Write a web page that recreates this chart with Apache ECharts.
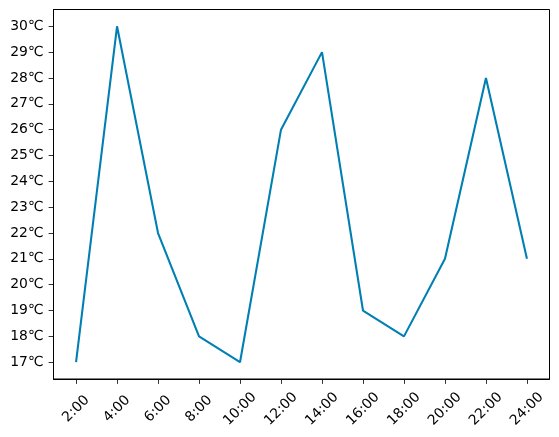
<!DOCTYPE html>
<html><head><meta charset="utf-8">
<script src="https://cdn.jsdelivr.net/npm/echarts@6/dist/echarts.min.js"></script>
<style>html,body{margin:0;padding:0;background:#fff}#c{width:559px;height:437px}</style>
</head><body><div id="c"></div>
<script>
const hours = [2,4,6,8,10,12,14,16,18,20,22,24];
const temps = [17,30,22,18,17,26,29,19,18,21,28,21];
const yTicks = [17,18,19,20,21,22,23,24,25,26,27,28,29,30];

const chart = echarts.init(document.getElementById('c'), null, {renderer:'canvas'});
const font = 'DejaVu Sans';
const axisLine = {show:true, onZero:false, lineStyle:{color:'#000', width:1}};
chart.setOption({
  animation:false,
  grid:{left:53.5, right:9.5, top:9.5, bottom:58, containLabel:false, show:true, borderColor:'#000', borderWidth:1},
  xAxis:{
    type:'value', min:0.9, max:25.1,
    axisLine:axisLine,
    splitLine:{show:false},
    axisTick:{show:true, length:4.9, lineStyle:{color:'#000', width:0.8}, customValues:hours},
    axisLabel:{customValues:hours, formatter:v=>v+':00', rotate:45, align:'center', verticalAlign:'middle',
      margin:30, fontFamily:font, fontSize:13.9, color:'#000'}
  },
  yAxis:{
    type:'value', min:16.35, max:30.65,
    axisLine:axisLine,
    splitLine:{show:false},
    axisTick:{show:true, length:4.9, lineStyle:{color:'#000', width:0.8}, customValues:yTicks},
    axisLabel:{customValues:yTicks, formatter:v=>v+'℃', margin:10,
      fontFamily:font, fontSize:13.9, color:'#000'}
  },
  series:[{
    type:'line', data:hours.map((h,i)=>[h,temps[i]]),
    showSymbol:false, lineStyle:{color:'#007fb3', width:2.08}, itemStyle:{color:'#007fb3'}
  }]
});
</script></body></html>
